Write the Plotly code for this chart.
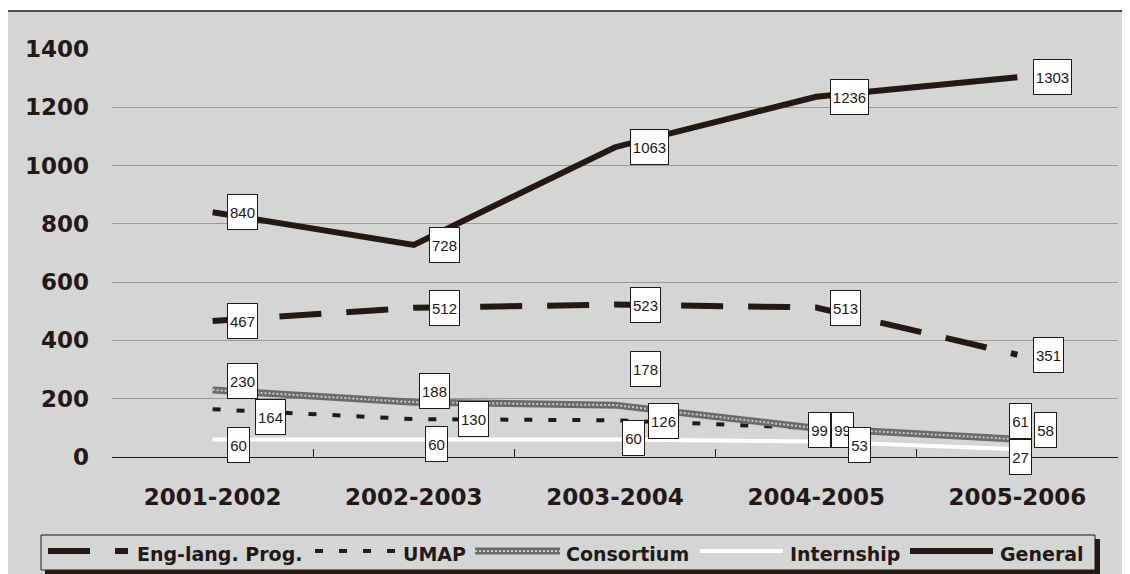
import plotly.graph_objects as go

# ---------------- data ----------------
categories = ["2001-2002", "2002-2003", "2003-2004", "2004-2005", "2005-2006"]
eng_lang = [467, 512, 523, 513, 351]
umap = [164, 130, 126, 99, 58]
consortium = [230, 188, 178, 99, 61]
internship = [60, 60, 60, 53, 27]
general = [840, 728, 1063, 1236, 1303]
y_ticks = [0, 200, 400, 600, 800, 1000, 1200, 1400]
series_names = ["Eng-lang. Prog.", "UMAP", "Consortium", "Internship", "General"]

# ---------------- styles / layout ----------------
INK = "#231815"
BG = "#d4d6d5"
PAGE_MARGIN = 8                      # browser body margin
W, H = 1130 - PAGE_MARGIN, 574 - PAGE_MARGIN
PL, PR, PT, PB = 112, 1118, 49, 457  # plot area in window px

# data label boxes: left edge offset from point (px) and vertical shift (up +)
label_dx = {
    "eng": [14, 15, 15, 14, 16],
    "umap": [42, 44, 33, -8, 17],
    "cons": [14, 5, 15, 15, -8],
    "intern": [14, 11, 7, 32, -8],
    "gen": [14, 15, 15, 14, 16],
}
label_dy = {
    "eng": [0, 0, 0, 0, 0],
    "umap": [-8, 0, -1, -2, 10],
    "cons": [9, 11, 36, -2, 18],
    "intern": [-5, -4, 2, -3, -8],
    "gen": [0, 0, 0, 0, 0],
}

def px_x(p):
    return (p - PL) / (PR - PL)

def px_y(p):
    return (PB - p) / (PB - PT)

fig = go.Figure()

fig.add_trace(go.Scatter(x=categories, y=eng_lang, mode="lines", name=series_names[0],
                         line=dict(color=INK, width=6, dash="42px,25px")))
fig.add_trace(go.Scatter(x=categories, y=umap, mode="lines", name=series_names[1],
                         line=dict(color=INK, width=4, dash="8px,16px")))
fig.add_trace(go.Scatter(x=categories, y=consortium, mode="lines", name=series_names[2],
                         line=dict(color="#6a6a6a", width=7)))
fig.add_trace(go.Scatter(x=categories, y=consortium, mode="lines", showlegend=False,
                         hoverinfo="skip", name=series_names[2],
                         line=dict(color="#c9c9c9", width=2, dash="2px,2px")))
fig.add_trace(go.Scatter(x=categories, y=internship, mode="lines", name=series_names[3],
                         line=dict(color="white", width=4)))
fig.add_trace(go.Scatter(x=categories, y=general, mode="lines", name=series_names[4],
                         line=dict(color=INK, width=6)))

# data labels
annotations = []
for key, vals in [("eng", eng_lang), ("umap", umap), ("cons", consortium),
                  ("intern", internship), ("gen", general)]:
    for i, v in enumerate(vals):
        nd = len(str(v))
        annotations.append(dict(
            x=categories[i], y=v, xref="x", yref="y", text=str(v), showarrow=False,
            xanchor="left", yanchor="middle",
            xshift=label_dx[key][i], yshift=label_dy[key][i],
            width={2: 21, 3: 29, 4: 37}[nd], height=34,
            bgcolor="white", bordercolor=INK, borderwidth=1, borderpad=0,
            font=dict(family="Liberation Sans Narrow, Liberation Sans, Arial", size=15, color=INK),
        ))

shapes = [
    # chart area background + frame
    dict(type="rect", xref="paper", yref="paper", layer="below",
         x0=px_x(7), x1=px_x(1140), y0=px_y(590), y1=px_y(11),
         fillcolor=BG, line=dict(color=INK, width=1.5)),
    # legend shadow
    dict(type="rect", xref="paper", yref="paper", layer="below",
         x0=px_x(45), x1=px_x(1100), y0=px_y(578), y1=px_y(539),
         fillcolor=INK, line=dict(width=0)),
    # legend box
    dict(type="rect", xref="paper", yref="paper", layer="below",
         x0=px_x(41), x1=px_x(1095), y0=px_y(570), y1=px_y(535),
         fillcolor=BG, line=dict(color=INK, width=1)),
]

# legend (drawn by hand so the sample lines are as long as in the original)
LEG_Y = 551
legend_items = [
    # name, sample x0, x1, line styles, text x
    (series_names[0], 48, 128, [dict(color=INK, width=6, dash="42px,25px")], 135),
    (series_names[1], 315, 396, [dict(color=INK, width=4, dash="8px,16px")], 401),
    (series_names[2], 475, 560, [dict(color="#6a6a6a", width=7),
                                 dict(color="#c9c9c9", width=2, dash="2px,2px")], 564),
    (series_names[3], 700, 783, [dict(color="white", width=4)], 788),
    (series_names[4], 910, 993, [dict(color=INK, width=6)], 998),
]
for name, x0, x1, styles, tx in legend_items:
    for st in styles:
        shapes.append(dict(type="line", xref="paper", yref="paper", layer="above",
                           x0=px_x(x0), x1=px_x(x1), y0=px_y(LEG_Y), y1=px_y(LEG_Y),
                           line=st))
    annotations.append(dict(x=px_x(tx), y=px_y(LEG_Y + 3), xref="paper", yref="paper",
                            text=name, showarrow=False, xanchor="left", yanchor="middle",
                            font=dict(family="DejaVu Sans", size=19, color=INK, weight="bold")))

fig.update_layout(
    width=W, height=H,
    margin=dict(l=PL - PAGE_MARGIN, r=1130 - PR, t=PT - PAGE_MARGIN, b=574 - PB, pad=0),
    paper_bgcolor="white",
    plot_bgcolor="rgba(0,0,0,0)",
    showlegend=False,
    annotations=annotations,
    shapes=shapes,
)

fig.update_xaxes(type="category", range=[-0.5, 4.5], tickson="boundaries",
                 ticks="inside", ticklen=8, tickcolor=INK, tickwidth=1,
                 showline=True, linecolor=INK, linewidth=1, showgrid=False,
                 ticklabelstandoff=19,
                 tickfont=dict(family="DejaVu Sans", size=23, color=INK, weight="bold"))
fig.update_yaxes(range=[0, 1400], tickvals=y_ticks, showgrid=True, gridcolor="#9a9a9a",
                 gridwidth=1.2, zeroline=False, showline=False, ticks="",
                 ticklabelstandoff=22,
                 tickfont=dict(family="DejaVu Sans", size=23, color=INK, weight="bold"))

fig.write_html("out.html")
